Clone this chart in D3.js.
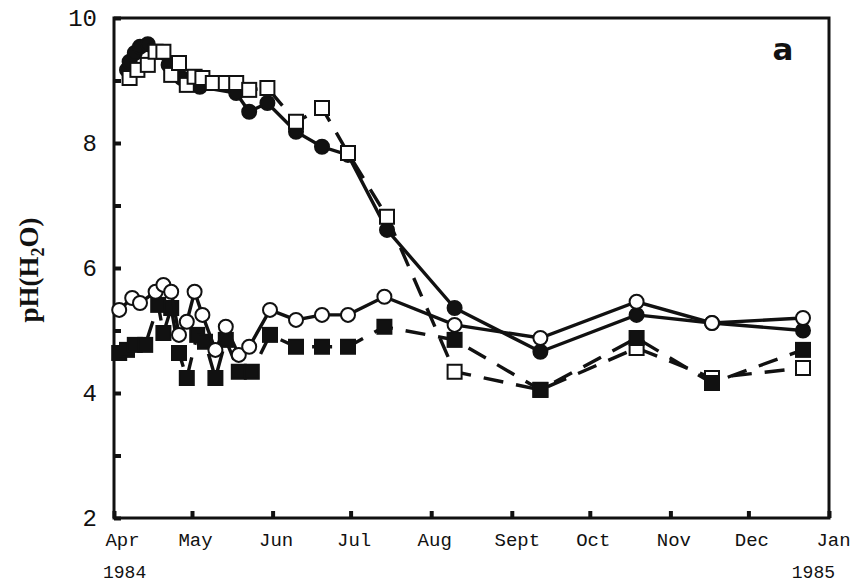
<!DOCTYPE html>
<html><head><meta charset="utf-8">
<script src="https://cdn.jsdelivr.net/npm/d3@7"></script>
<style>body{margin:0;background:#fff}</style>
</head><body>
<svg id="chart" width="853" height="585"></svg>
<script>
// ---- data ----
const monthLabels = ["Apr","May","Jun","Jul","Aug","Sept","Oct","Nov","Dec","Jan"];
const yearLabels = ["1984","1985"];
const yTickValues = [2,3,4,5,6,7,8,9,10];
const yTickLabels = ["2","","4","","6","","8","","10"];

// filled circles, solid line
const fcDates = ["1984-04-06","1984-04-07","1984-04-09","1984-04-11","1984-04-14","1984-04-22","1984-04-27","1984-05-04","1984-05-18","1984-05-23","1984-05-30","1984-06-10","1984-06-20","1984-06-30","1984-07-15","1984-08-10","1984-09-12","1984-10-19","1984-11-17","1984-12-22"];
const fcValues = [9.17,9.30,9.44,9.54,9.58,9.25,9.04,8.90,8.80,8.50,8.64,8.18,7.94,7.81,6.61,5.36,4.66,5.25,5.12,5.00];

// open squares, dashed line
const osDates = ["1984-04-07","1984-04-10","1984-04-14","1984-04-17","1984-04-20","1984-04-23","1984-04-26","1984-04-29","1984-05-02","1984-05-05","1984-05-09","1984-05-14","1984-05-18","1984-05-23","1984-05-30","1984-06-10","1984-06-20","1984-06-30","1984-07-15","1984-08-10","1984-09-12","1984-10-19","1984-11-17","1984-12-22"];
const osValues = [9.04,9.17,9.25,9.46,9.46,9.09,9.28,8.93,9.06,9.04,8.96,8.96,8.96,8.85,8.88,8.34,8.56,7.84,6.82,4.34,4.05,4.72,4.24,4.40];

// filled squares, dashed line
const fsDates = ["1984-04-03","1984-04-06","1984-04-09","1984-04-13","1984-04-18","1984-04-20","1984-04-23","1984-04-26","1984-04-29","1984-05-03","1984-05-06","1984-05-10","1984-05-14","1984-05-19","1984-05-24","1984-05-31","1984-06-10","1984-06-20","1984-06-30","1984-07-14","1984-08-10","1984-09-12","1984-10-19","1984-11-17","1984-12-22"];
const fsValues = [4.64,4.69,4.77,4.77,5.41,4.96,5.36,4.64,4.24,4.93,4.82,4.24,4.85,4.34,4.34,4.93,4.74,4.74,4.74,5.06,4.85,4.05,4.88,4.16,4.69];

// open circles, solid line
const ocDates = ["1984-04-03","1984-04-08","1984-04-11","1984-04-17","1984-04-20","1984-04-23","1984-04-26","1984-04-29","1984-05-02","1984-05-05","1984-05-10","1984-05-14","1984-05-19","1984-05-23","1984-05-31","1984-06-10","1984-06-20","1984-06-30","1984-07-14","1984-08-10","1984-09-12","1984-10-19","1984-11-17","1984-12-22"];
const ocValues = [5.33,5.52,5.44,5.62,5.73,5.62,4.93,5.14,5.62,5.25,4.69,5.06,4.61,4.74,5.33,5.17,5.25,5.25,5.54,5.09,4.88,5.46,5.12,5.20];

// ---- chart ----
const svg = d3.select("#chart");
const L = 114, R = 829, T = 18, B = 518;
const parse = d3.utcParse("%Y-%m-%d");
const x = d3.scaleUtc().domain([parse("1984-04-01"), parse("1985-01-01")]).range([L, R]);
const y = d3.scaleLinear().domain([2, 10]).range([B, T]);
const monthTicks = d3.utcMonth.range(parse("1984-04-01"), parse("1985-01-02"));

const monoFont = "'Liberation Mono', 'DejaVu Sans Mono', monospace";

// x axis (ticks inward)
const xAxis = d3.axisBottom(x).tickValues(monthTicks).tickSizeInner(-7).tickSizeOuter(0)
  .tickFormat((d, i) => monthLabels[i]);
const gx = svg.append("g").attr("transform", `translate(0,${B})`).call(xAxis);
gx.select(".domain").remove();
gx.selectAll(".tick line").attr("stroke", "#111").attr("stroke-width", 4);
gx.selectAll(".tick text").attr("font-family", monoFont).attr("font-size", 19)
  .attr("fill", "#111").attr("y", 28).attr("dy", 0)
  .attr("dx", (d, i) => i === 0 ? 8 : (i === 9 ? 4 : (monthLabels[i] === "Sept" ? 5 : 3)));

// years
svg.append("text").attr("x", 103).attr("y", 578).attr("font-family", monoFont).attr("font-size", 18)
  .attr("fill", "#111").text(yearLabels[0]);
svg.append("text").attr("x", 835).attr("y", 578).attr("text-anchor", "end").attr("font-family", monoFont)
  .attr("font-size", 18).attr("fill", "#111").text(yearLabels[1]);

// y axis (ticks inward)
const yAxis = d3.axisLeft(y).tickValues(yTickValues).tickSizeInner(-7).tickSizeOuter(0).tickPadding(17)
  .tickFormat((d, i) => yTickLabels[i]);
const gy = svg.append("g").attr("transform", `translate(${L},0)`).call(yAxis);
gy.select(".domain").remove();
gy.selectAll(".tick line").attr("stroke", "#111").attr("stroke-width", 4);
gy.selectAll(".tick text").attr("font-family", monoFont).attr("font-size", 24).attr("fill", "#111");

// frame
svg.append("rect").attr("x", L).attr("y", T).attr("width", R - L).attr("height", B - T)
  .attr("fill", "none").attr("stroke", "#111").attr("stroke-width", 3);

// y label
svg.append("text").attr("transform", "translate(38,270) rotate(-90)").attr("text-anchor", "middle")
  .attr("font-family", "'Liberation Serif', 'DejaVu Serif', serif").attr("font-weight", "bold")
  .attr("font-size", 27).attr("fill", "#111")
  .call(t => {
    t.append("tspan").text("pH(H");
    t.append("tspan").attr("font-size", 18).attr("dy", 6).text("2");
    t.append("tspan").attr("dy", -6).text("O)");
  });

// panel label
svg.append("text").attr("x", 783).attr("y", 60).attr("text-anchor", "middle")
  .attr("font-family", "'DejaVu Sans', sans-serif").attr("font-weight", "bold").attr("font-size", 31).attr("fill", "#111").text("a");

// series
const series = [
  {dates: fcDates, values: fcValues, marker: "circle", fill: "#111", dash: null},
  {dates: osDates, values: osValues, marker: "square", fill: "#fff", dash: "20,13"},
  {dates: fsDates, values: fsValues, marker: "square", fill: "#111", dash: "20,13"},
  {dates: ocDates, values: ocValues, marker: "circle", fill: "#fff", dash: null}
];
const line = d3.line().x(d => x(d.date)).y(d => y(d.v));
series.forEach(s => {
  const pts = s.dates.map((d, i) => ({date: parse(d), v: s.values[i]}));
  const g = svg.append("g");
  g.append("path").datum(pts).attr("d", line).attr("fill", "none").attr("stroke", "#111")
    .attr("stroke-width", 3.4).attr("stroke-dasharray", s.dash);
  if (s.marker === "circle") {
    g.selectAll("circle").data(pts).join("circle").attr("cx", d => x(d.date)).attr("cy", d => y(d.v))
      .attr("r", 7).attr("fill", s.fill).attr("stroke", "#111").attr("stroke-width", 2);
  } else {
    g.selectAll("rect").data(pts).join("rect").attr("x", d => x(d.date) - 7).attr("y", d => y(d.v) - 7)
      .attr("width", 14).attr("height", 14).attr("fill", s.fill).attr("stroke", "#111").attr("stroke-width", 2);
  }
});
</script>
</body></html>
